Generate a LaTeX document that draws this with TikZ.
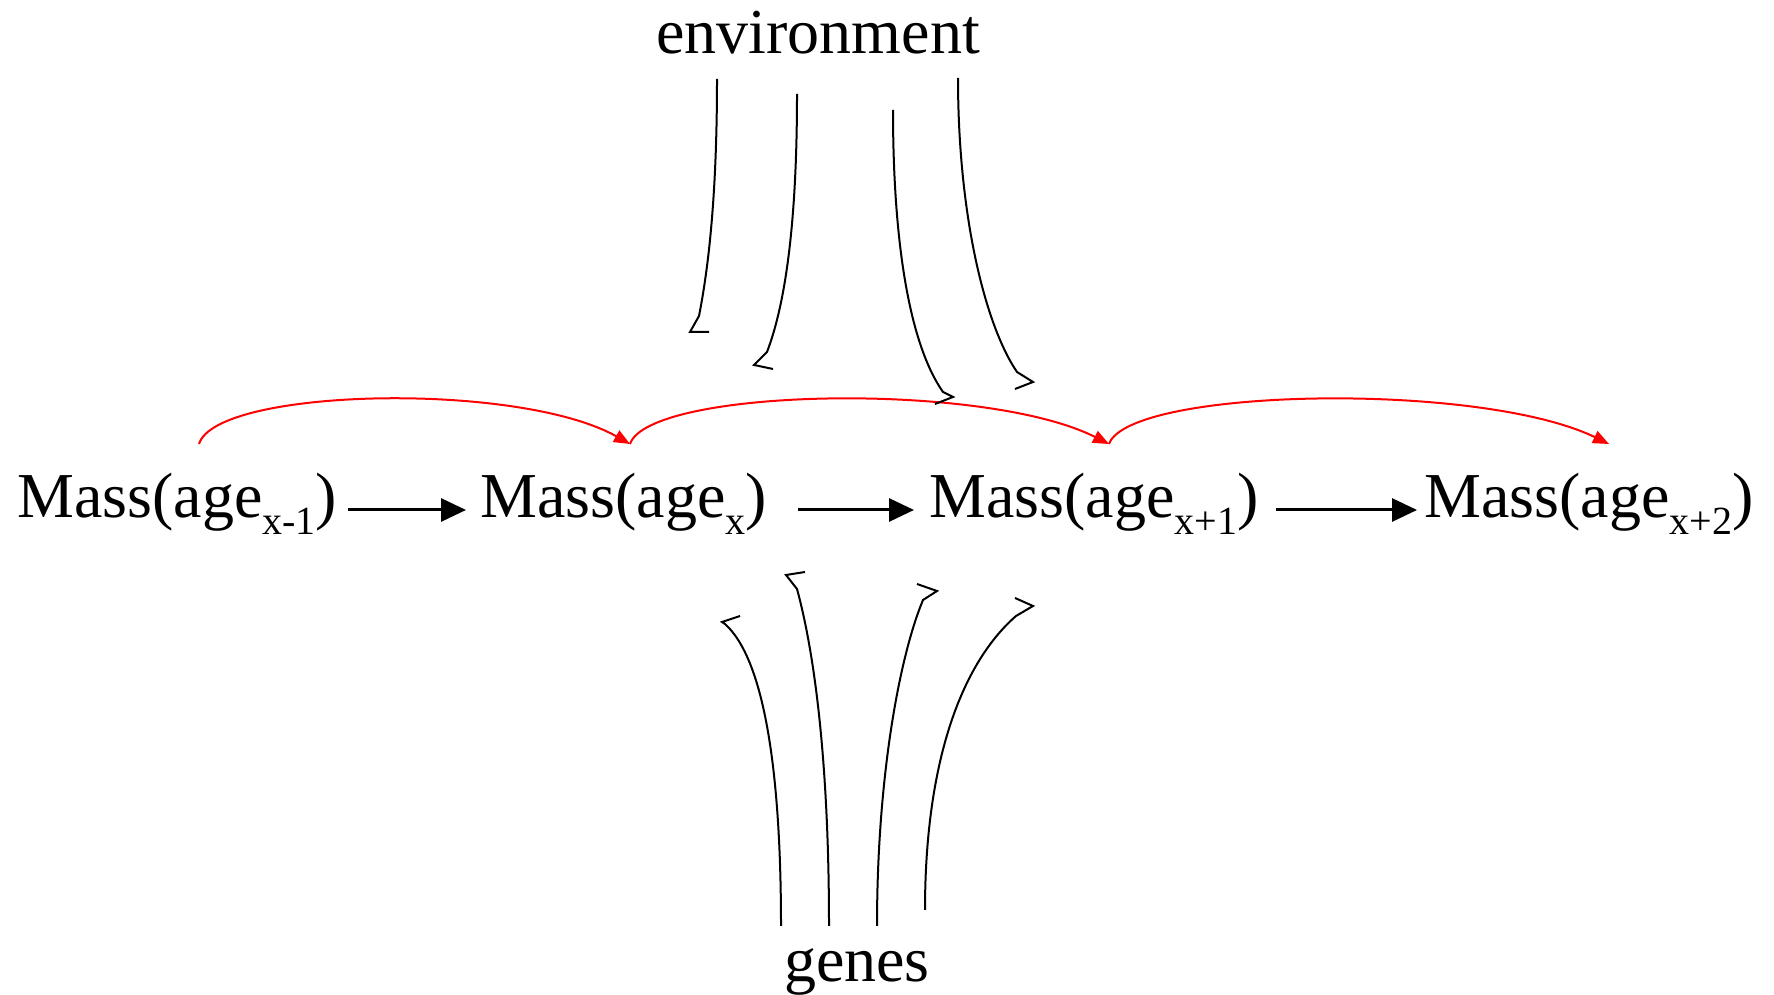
\documentclass[tikz,border=0pt]{standalone}
\usepackage{fontspec}
\setmainfont{Liberation Serif}
\usetikzlibrary{arrows.meta}
\newcommand{\sbx}[1]{\raisebox{-17pt}{\fontsize{40}{40}\selectfont #1}}
\begin{document}
\begin{tikzpicture}[x=1pt,y=1pt,
  lbl/.style={inner sep=0pt,font=\fontsize{64}{70}\selectfont},
  mass/.style={lbl,anchor=base west},
  flow/.style={line width=3pt,-{Triangle[length=25pt,width=23pt]}},
  redarc/.style={red,line width=2pt,-{Triangle[length=16pt,width=13pt]}},
  infl/.style={line width=2pt,line join=miter}]
\useasboundingbox (0,0) rectangle (1774,995);
% labels
\node[lbl,anchor=base] (env) at (818,941) {environment};
\node[lbl,anchor=base] (gen) at (857,13) {genes};
\node[mass] (m1) at (17,477) {Mass(age\sbx{x-1})};
\node[mass] (m2) at (480,477) {Mass(age\sbx{x})};
\node[mass] (m3) at (929,477) {Mass(age\sbx{x+1})};
\node[mass] (m4) at (1424,477) {Mass(age\sbx{x+2})};
% horizontal arrows
\coordinate (a1s) at (348,485); \coordinate (a1e) at (466,485);
\coordinate (a2s) at (798,485); \coordinate (a2e) at (914,485);
\coordinate (a3s) at (1276,485); \coordinate (a3e) at (1417,485);
\draw[flow] (a1s) -- (a1e);
\draw[flow] (a2s) -- (a2e);
\draw[flow] (a3s) -- (a3e);
% red arcs
\coordinate (r1) at (199,551);
\coordinate (r2) at (630,551);
\coordinate (r3) at (1109,551);
\coordinate (r4) at (1609,551);
\draw[redarc] (r1) .. controls (216,607) and (518,614) .. (r2);
\draw[redarc] (r2) .. controls (649,607) and (984,614) .. (r3);
\draw[redarc] (r3) .. controls (1129,607) and (1479,614) .. (r4);
% environment influences
\coordinate (e1s) at (717,916); \coordinate (e1p) at (699,679); \coordinate (e1t) at (690,663); \coordinate (e1b) at (709,663);
\coordinate (e2s) at (797,901); \coordinate (e2p) at (767,643); \coordinate (e2t) at (754,630); \coordinate (e2b) at (773,626);
\coordinate (e3s) at (893,885); \coordinate (e3p) at (943,603); \coordinate (e3t) at (953,598); \coordinate (e3b) at (935,591);
\coordinate (e4s) at (958,917); \coordinate (e4p) at (1017,623); \coordinate (e4t) at (1033,613); \coordinate (e4b) at (1015,606);
\draw[infl] (e1s) .. controls (717,790) and (707,720) .. (e1p) -- (e1t) -- (e1b);
\draw[infl] (e2s) .. controls (797,770) and (785,690) .. (e2p) -- (e2t) -- (e2b);
\draw[infl] (e3s) .. controls (893,750) and (910,650) .. (e3p) -- (e3t) -- (e3b);
\draw[infl] (e4s) .. controls (958,780) and (985,670) .. (e4p) -- (e4t) -- (e4b);
% gene influences
\coordinate (g1s) at (781,69); \coordinate (g1p) at (725,371); \coordinate (g1t) at (722,373); \coordinate (g1b) at (740,379);
\coordinate (g2s) at (829,69); \coordinate (g2p) at (797,406); \coordinate (g2t) at (786,420); \coordinate (g2b) at (805,423);
\coordinate (g3s) at (877,69); \coordinate (g3p) at (923,395); \coordinate (g3t) at (937,404); \coordinate (g3b) at (917,411);
\coordinate (g4s) at (925,85); \coordinate (g4p) at (1016,379); \coordinate (g4t) at (1033,389); \coordinate (g4b) at (1015,397);
\draw[infl] (g1s) .. controls (781,220) and (765,335) .. (g1p) -- (g1t) -- (g1b);
\draw[infl] (g2s) .. controls (829,230) and (815,340) .. (g2p) -- (g2t) -- (g2b);
\draw[infl] (g3s) .. controls (877,220) and (900,340) .. (g3p) -- (g3t) -- (g3b);
\draw[infl] (g4s) .. controls (925,230) and (960,330) .. (g4p) -- (g4t) -- (g4b);
\end{tikzpicture}
\end{document}
